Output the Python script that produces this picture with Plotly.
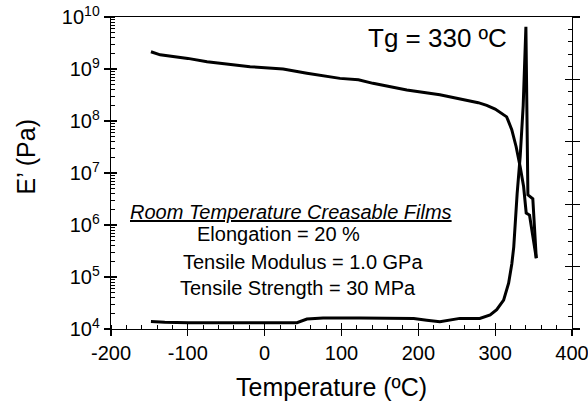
import plotly.graph_objects as go

# Storage modulus E' (Pa)
t_storage = [-148, -136, -100, -75, -19, 24, 55, 81, 98, 122, 141, 185, 228, 278, 289, 300, 311, 315,
             321.6, 327.3, 332.6, 337, 340.4, 344.7, 353.5]
e_storage = [2.15e9, 1.87e9, 1.6e9, 1.38e9, 1.11e9, 1.0e9, 8.3e8, 7.1e8, 6.6e8, 6.2e8, 5.3e8, 3.95e8, 3.2e8,
             2.25e8, 2.0e8, 1.7e8, 1.3e8, 1.2e8, 6.8e7, 3.2e7, 1.3e7, 5.5e6, 1.7e6, 1.55e6, 2.3e5]

# Second (loss / damping) curve
t_loss = [-148, -130, -99, 0, 42, 55, 76, 124, 160, 194, 211, 228, 254, 280, 293.5, 302, 311, 317.5,
          321.7, 324.2, 328.6, 332.6, 336.5, 338.6, 340, 342.6, 349, 353.5]
e_loss = [1.4e4, 1.35e4, 1.32e4, 1.32e4, 1.32e4, 1.55e4, 1.62e4, 1.62e4, 1.62e4, 1.6e4, 1.48e4, 1.38e4,
          1.6e4, 1.6e4, 1.86e4, 2.35e4, 3.6e4, 7.6e4, 1.8e5, 3.8e5, 4.0e6, 2.1e7, 2.0e8, 2.5e9, 6.5e9,
          3.8e6, 3.2e6, 2.3e5]

x_tickvals = [-200, -100, 0, 100, 200, 300, 400]
x_ticktext = ["-200", "-100", "0", "100", "200", "300", "400"]
y_tickvals = [1e4, 1e5, 1e6, 1e7, 1e8, 1e9, 1e10]
y_ticktext = ["10<sup>4</sup>", "10<sup>5</sup>", "10<sup>6</sup>", "10<sup>7</sup>",
              "10<sup>8</sup>", "10<sup>9</sup>", "10<sup>10</sup>"]

FONT = "Liberation Sans, Arial, sans-serif"
line = dict(color="black", width=3)

fig = go.Figure()
fig.add_trace(go.Scatter(x=t_storage, y=e_storage, mode="lines", line=line, showlegend=False))
fig.add_trace(go.Scatter(x=t_loss, y=e_loss, mode="lines", line=line, showlegend=False))
# helper (empty) traces so the overlay axes exist
fig.add_trace(go.Scatter(x=[None], y=[None], xaxis="x2", yaxis="y2", showlegend=False, hoverinfo="skip"))
fig.add_trace(go.Scatter(x=[None], y=[None], xaxis="x", yaxis="y3", showlegend=False, hoverinfo="skip"))
fig.add_trace(go.Scatter(x=[None], y=[None], xaxis="x", yaxis="y4", showlegend=False, hoverinfo="skip"))

common = dict(automargin=False, showgrid=False, zeroline=False, tickcolor="black", tickwidth=1.3)

fig.update_layout(
    template="none",
    width=588, height=403,
    margin=dict(l=111, r=16, t=17, b=74),
    paper_bgcolor="white", plot_bgcolor="white",
    font=dict(family=FONT, color="black", size=20),
    xaxis=dict(range=[-200, 400], tickvals=x_tickvals, ticktext=x_ticktext,
               ticks="outside", ticklen=6, ticklabeloverflow="allow",
               minor=dict(ticks="inside", ticklen=4, dtick=20, tickcolor="black", tickwidth=1, showgrid=False),
               showline=True, linecolor="black", linewidth=1.3, mirror=True,
               tickfont=dict(size=20), **common),
    xaxis2=dict(overlaying="x", anchor="y", side="bottom", range=[-200, 400], tickvals=x_tickvals,
                ticks="inside", ticklen=6, showticklabels=False, showline=False, **common),
    yaxis=dict(type="log", range=[4, 10], tickvals=y_tickvals, ticktext=y_ticktext,
               ticks="outside", ticklen=6, ticklabeloverflow="allow",
               minor=dict(ticks="inside", ticklen=4, dtick="D1", tickcolor="black", tickwidth=1, showgrid=False),
               showline=True, linecolor="black", linewidth=1.3, mirror=True,
               tickfont=dict(size=20), **common),
    yaxis2=dict(type="log", overlaying="y", anchor="x", side="left", range=[4, 10], tickvals=y_tickvals,
                ticks="inside", ticklen=6, showticklabels=False, showline=False, **common),
    yaxis3=dict(overlaying="y", anchor="x", side="right", range=[0, 5], dtick=1,
                ticks="inside", ticklen=7,
                minor=dict(ticks="inside", ticklen=4, dtick=0.2, tickcolor="black", tickwidth=1, showgrid=False),
                showticklabels=False, showline=False, **common),
    yaxis4=dict(overlaying="y", anchor="x", side="right", range=[0, 5], dtick=1,
                ticks="outside", ticklen=7, showticklabels=False, showline=False, **common),
)

def ann(text, x, y, size, **kw):
    fig.add_annotation(text=text, x=x, y=y, xref="paper", yref="paper", showarrow=False,
                       xanchor="center", yanchor="middle", font=dict(size=size, family=FONT, color="black"), **kw)

ann("Temperature (ºC)", (331 - 111) / 461, (329 - 387) / 312, 25)
ann("E’ (Pa)", (25 - 111) / 461, (329 - 157.5) / 312, 25, textangle=-90)
ann("Tg = 330 ºC", (437 - 111) / 461, (329 - 38) / 312, 26)
ann("<i><u>Room Temperature Creasable Films</u></i>", (290.5 - 111) / 461, (329 - 211.5) / 312, 20)
ann("Elongation = 20 %", (278.3 - 111) / 461, (329 - 233.8) / 312, 20)
ann("Tensile Modulus = 1.0 GPa", (302.5 - 111) / 461, (329 - 261.7) / 312, 20)
ann("Tensile Strength = 30 MPa", (297.5 - 111) / 461, (329 - 288) / 312, 20)

fig.write_html("out.html", config={"displayModeBar": False, "staticPlot": True},
               post_script="document.body.style.margin='0';document.body.style.overflow='hidden';")
